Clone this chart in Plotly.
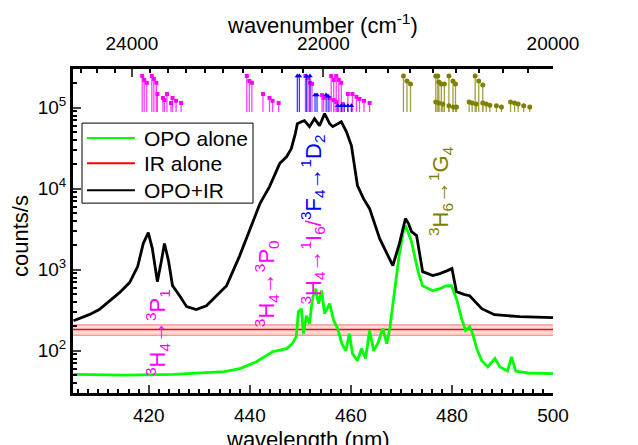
import numpy as np
import plotly.graph_objects as go

# ---------------- data ----------------
black_nm = [405.1, 408.2, 410.2, 412.2, 414.2, 416.2, 417.8, 418.9, 419.9, 420.7, 421.7, 422.5, 423.1, 423.9,
            424.7, 426.1, 427.5, 429.4, 431.4, 433.4, 435.4, 438.0, 440.0, 442.0, 443.9, 445.9, 447.3, 448.2,
            449.0, 449.4, 450.2, 450.8, 451.8, 452.8, 453.8, 454.8, 455.8, 456.4, 458.1, 459.1, 460.1, 461.3,
            462.5, 463.7, 465.7, 468.3, 469.6, 470.8, 471.4, 472.0, 473.0, 474.2, 476.2, 477.6, 479.1, 480.0,
            480.9, 482.5, 483.5, 485.9, 488.4, 493.4, 500.0]
black_cts = [234, 278, 321, 414, 520, 692, 1090, 2100, 2860, 1820, 711, 1290, 2100, 1290,
             634, 477, 349, 321, 359, 477, 634, 1490, 3210, 6530, 10600, 20400, 24900, 31200,
             47800, 63400, 67100, 69100, 58300, 73100, 59900, 84400, 63400, 58300, 67100, 50600, 34000, 10900,
             7530, 5660, 2410, 1120, 2100, 4270, 3700, 2950, 2630, 944, 843, 892, 972, 1030,
             535, 491, 477, 330, 278, 263, 255]

green_nm = [405.1, 415.0, 425.0, 435.0, 438.0, 441.3, 444.5, 447.3, 448.4, 449.2, 449.6, 450.2, 450.6, 451.2,
            451.8, 452.4, 453.0, 453.6, 454.2, 454.8, 455.8, 456.6, 457.4, 458.2, 459.0, 459.7, 460.3, 461.3,
            462.1, 462.9, 463.7, 464.5, 465.3, 466.3, 467.1, 467.7, 468.7, 469.6, 470.4, 470.8, 471.2, 472.0,
            472.6, 473.4, 474.2, 476.2, 477.6, 478.9, 479.9, 480.9, 481.9, 482.7, 483.5, 484.1, 484.9, 485.9,
            487.1, 488.5, 489.5, 491.0, 491.8, 492.6, 495.0, 500.0]
green_cts = [51, 50, 51, 55, 60, 73, 97, 106, 122, 149, 303, 330, 162, 270,
             215, 438, 582, 380, 550, 286, 380, 234, 187, 122, 100, 162, 92, 75,
             106, 80, 177, 100, 122, 187, 122, 187, 582, 1580, 3030, 3490, 3030, 2220,
             1490, 893, 634, 550, 582, 634, 634, 438, 248, 177, 198, 162, 106, 75,
             63, 80, 63, 56, 84, 56, 53, 52]

ir_mean = 182
ir_low = 155
ir_high = 208

# transition line positions (nm) and relative strengths
mag_nm = [418.7, 419.1, 419.6, 420.6, 421.0, 421.5, 421.7, 422.8, 423.1, 423.6, 424.4, 424.7, 425.4, 426.4,
          439.4, 439.9, 440.4, 442.6, 443.9, 444.5, 445.7,
          451.0, 451.5, 451.9, 452.3, 454.3, 454.6, 455.8, 456.1, 456.6, 457.1, 457.6, 458.1, 458.4, 459.4,
          460.3, 461.1, 461.7, 462.6, 463.7, 456.6, 457.1]
mag_h = [1.0, 0.89, 0.81, 1.0, 0.92, 0.81, 0.5, 0.39, 0.33, 0.5, 0.25, 0.39, 0.31, 0.25,
         1.0, 0.86, 0.81, 0.5, 0.39, 0.31, 0.25,
         1.0, 0.94, 0.81, 0.78, 0.47, 0.39, 0.39, 1.0, 0.89, 1.0, 0.89, 0.81, 0.22, 0.5,
         0.5, 0.42, 0.36, 0.31, 0.25, 0.33, 0.28]
blue_nm = [449.4, 449.8, 451.2, 451.9, 452.9, 453.3, 455.1, 455.5, 457.4, 458.1, 458.7, 459.4, 460.1]
blue_h = [1.0, 1.0, 1.0, 1.0, 0.47, 0.47, 0.47, 0.44, 0.17, 0.17, 0.17, 0.17, 0.17]
olive_nm = [470.4, 471.1, 471.8, 476.8, 477.2, 477.4, 477.9, 478.5, 479.4, 480.2, 480.7, 476.8, 477.4, 478.2,
            479.4, 480.3, 480.9, 484.6, 485.3, 486.1, 483.4, 484.0, 484.8, 486.1, 486.8, 487.5, 488.8, 489.8,
            491.6, 492.4, 493.1, 494.2, 495.4]
olive_h = [1.0, 0.86, 0.78, 1.0, 1.0, 0.83, 0.78, 0.78, 1.0, 0.86, 0.78, 0.28, 0.25, 0.22,
           0.17, 0.14, 0.14, 1.0, 0.86, 0.75, 0.28, 0.25, 0.22, 0.25, 0.22, 0.19, 0.17, 0.14,
           0.28, 0.25, 0.22, 0.17, 0.14]

x_ticks = [420, 440, 460, 480, 500]
y_ticks = [100, 1000, 10000, 100000]
y_tick_text = ["10<sup>2</sup>", "10<sup>3</sup>", "10<sup>4</sup>", "10<sup>5</sup>"]
wn_ticks = [24000, 22000, 20000]
wn_minor = list(range(24600, 19999, -200))
legend_names = ["OPO alone", "IR alone", "OPO+IR"]

FONT = "Arial, Liberation Sans, sans-serif"
MAG, BLUE, OLIVE = "#FF00FF", "#0000FF", "#808000"
GREEN, RED, BLACK = "#00FF00", "#FF0000", "#000000"

fig = go.Figure()

# IR band
fig.add_trace(go.Scatter(x=[405, 500], y=[ir_high, ir_high], mode="lines",
                         line=dict(color="rgba(255,80,80,0.8)", width=1), showlegend=False, hoverinfo="skip"))
fig.add_trace(go.Scatter(x=[405, 500], y=[ir_low, ir_low], mode="lines", fill="tonexty",
                         fillcolor="rgba(255,0,0,0.15)",
                         line=dict(color="rgba(255,80,80,0.8)", width=1), showlegend=False, hoverinfo="skip"))
fig.add_trace(go.Scatter(x=[405, 500], y=[ir_mean, ir_mean], mode="lines", name=legend_names[1],
                         line=dict(color=RED, width=1.5), showlegend=False))
fig.add_trace(go.Scatter(x=green_nm, y=green_cts, mode="lines", name=legend_names[0],
                         line=dict(color=GREEN, width=2.8), showlegend=False))
fig.add_trace(go.Scatter(x=black_nm, y=black_cts, mode="lines", name=legend_names[2],
                         line=dict(color=BLACK, width=2.8), showlegend=False))


def stems(xs, hs, color, symbol, size):
    sx, sy = [], []
    for xv, hv in zip(xs, hs):
        sx += [xv, xv, None]
        sy += [0, hv, None]
    fig.add_trace(go.Scatter(x=sx, y=sy, mode="lines", yaxis="y3", line=dict(color=color, width=1.3),
                             opacity=0.75, showlegend=False, hoverinfo="skip"))
    fig.add_trace(go.Scatter(x=xs, y=hs, mode="markers", yaxis="y3",
                             marker=dict(color=color, symbol=symbol, size=size), showlegend=False,
                             hoverinfo="skip"))


stems(mag_nm, mag_h, MAG, "square", 4)
stems(blue_nm, blue_h, BLUE, "triangle-up", 5)
stems(olive_nm, olive_h, OLIVE, "circle", 5)

# top axis dummy trace
fig.add_trace(go.Scatter(x=[405, 500], y=[None, None], xaxis="x2", showlegend=False, hoverinfo="skip"))

ARW = "→"
annots = [
    dict(x=421.6, y=0.188, text=f"<sup>3</sup>H<sub>4</sub>{ARW}<sup>3</sup>P<sub>1</sub>", color=MAG),
    dict(x=443.2, y=0.336, text=f"<sup>3</sup>H<sub>4</sub>{ARW}<sup>3</sup>P<sub>0</sub>", color=MAG),
    dict(x=452.4, y=0.537,
         text=f"<sup>3</sup>H<sub>4</sub>{ARW}<sup>1</sup>I<sub>6</sub>/<span style='color:#0000FF'><sup>3</sup>F<sub>4</sub>{ARW}<sup>1</sup>D<sub>2</sub></span>",
         color=MAG),
    dict(x=477.6, y=0.623, text=f"<sup>3</sup>H<sub>6</sub>{ARW}<sup>1</sup>G<sub>4</sub>", color=OLIVE),
]
for a in annots:
    fig.add_annotation(x=a["x"], y=a["y"], xref="x", yref="paper", text=a["text"], textangle=-90,
                       xanchor="center", yanchor="middle",
                       showarrow=False, font=dict(family=FONT, size=22, color=a["color"]))

# axis titles
fig.add_annotation(x=0.52, y=1.138, xref="paper", yref="paper", text="wavenumber (cm<sup>-1</sup>)",
                   showarrow=False, xanchor="center", yanchor="middle", font=dict(family=FONT, size=22))
fig.add_annotation(x=0.489, y=-0.145, xref="paper", yref="paper", text="wavelength (nm)",
                   showarrow=False, xanchor="center", yanchor="middle", font=dict(family=FONT, size=22))
fig.add_annotation(x=-0.108, y=0.485, xref="paper", yref="paper", text="counts/s", textangle=-90,
                   showarrow=False, xanchor="center", yanchor="middle", font=dict(family=FONT, size=22))

# manual legend (box, line samples, labels)
fig.add_shape(type="rect", xref="paper", yref="paper", x0=0.01875, x1=0.375, y0=0.586, y1=0.833,
              line=dict(color="black", width=1), fillcolor="white", layer="above")
for name, col, yy in zip(legend_names, [GREEN, RED, BLACK], [0.787, 0.709, 0.626]):
    fig.add_shape(type="line", xref="paper", yref="paper", x0=0.029, x1=0.129, y0=yy, y1=yy,
                  line=dict(color=col, width=2), layer="above")
    fig.add_annotation(x=0.144, y=yy, xref="paper", yref="paper", text=name, showarrow=False,
                       xanchor="left", yanchor="middle", font=dict(family=FONT, size=21, color="black"))

fig.update_layout(
    width=630, height=437,
    margin=dict(l=65, r=85, t=61, b=52, autoexpand=False),
    paper_bgcolor="white", plot_bgcolor="white",
    font=dict(family=FONT, size=19, color="black"),
    showlegend=False,
    xaxis=dict(range=[405, 500], tickvals=x_ticks, ticks="inside", ticklen=8, tickwidth=2,
               showline=True, linecolor="black", linewidth=3, mirror=False, showgrid=False, zeroline=False,
               automargin=False, ticklabelstandoff=3,
               minor=dict(dtick=2, tick0=0, ticks="inside", ticklen=4, tickwidth=1.5, tickcolor="black")),
    xaxis2=dict(range=[405, 500], overlaying="x", side="top", tickvals=[1e7 / w for w in wn_ticks],
                ticktext=[str(w) for w in wn_ticks], ticks="inside", ticklen=8, tickwidth=2,
                showline=True, linecolor="black", linewidth=3, showgrid=False, zeroline=False,
                automargin=False, ticklabelstandoff=8,
                minor=dict(tickvals=[1e7 / w for w in wn_minor], ticks="inside", ticklen=4,
                           tickwidth=1.5, tickcolor="black")),
    yaxis=dict(type="log", range=[np.log10(30), np.log10(3e5)], tickvals=y_ticks, ticktext=y_tick_text,
               ticks="inside", ticklen=8, tickwidth=2, showline=True, linecolor="black", linewidth=3,
               showgrid=False, zeroline=False, automargin=False,
               minor=dict(tickvals=[m * 10 ** e for e in range(1, 6) for m in range(2, 10)],
                          ticks="inside", ticklen=4, tickwidth=1.5, tickcolor="black")),
    yaxis3=dict(overlaying="y", range=[-7.806, 1.194], visible=False),
)

fig.write_html("out.html")
